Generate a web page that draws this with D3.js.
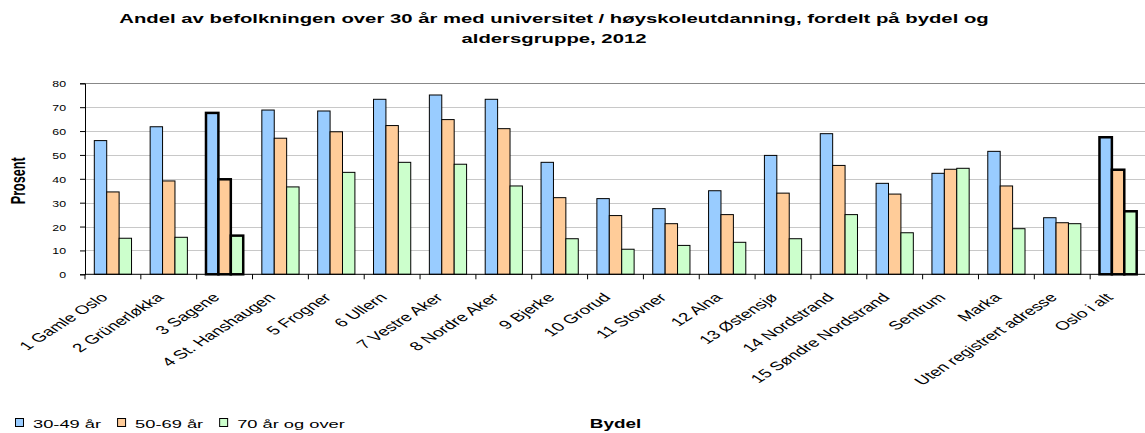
<!DOCTYPE html>
<html>
<head>
<meta charset="utf-8">
<script src="https://cdn.jsdelivr.net/npm/d3@7"></script>
<style>
  body { margin: 0; background: #fff; }
  text { font-family: "Liberation Sans", Arial, sans-serif; fill: #000; }
</style>
</head>
<body>
<svg id="chart"></svg>
<script>
// categories (bydel)
const bydeler = ["1 Gamle Oslo", "2 Grünerløkka", "3 Sagene", "4 St. Hanshaugen", "5 Frogner",
  "6 Ullern", "7 Vestre Aker", "8 Nordre Aker", "9 Bjerke", "10 Grorud", "11 Stovner",
  "12 Alna", "13 Østensjø", "14 Nordstrand", "15 Søndre Nordstrand", "Sentrum", "Marka",
  "Uten registrert adresse", "Oslo i alt"];

// series values (prosent)
const alder30_49 = [56.0, 61.8, 67.6, 68.8, 68.4, 73.3, 75.1, 73.3, 46.9, 31.7, 27.5, 35.0, 49.8, 58.9, 38.1, 42.3, 51.5, 23.7, 57.4];
const alder50_69 = [34.5, 39.1, 39.8, 57.0, 59.7, 62.3, 64.8, 61.0, 32.1, 24.6, 21.2, 25.0, 34.0, 45.6, 33.6, 44.0, 37.0, 21.6, 43.8];
const alder70 = [15.1, 15.5, 16.2, 36.6, 42.7, 46.9, 46.1, 37.0, 14.9, 10.5, 12.1, 13.4, 14.9, 25.0, 17.4, 44.4, 19.1, 21.2, 26.4];

const seriesNames = ["30-49 år", "50-69 år", "70 år og over"];
const seriesColors = ["#99ccff", "#ffcc99", "#ccffcc"];
const highlighted = ["3 Sagene", "Oslo i alt"];
const yTicks = [0, 10, 20, 30, 40, 50, 60, 70, 80];

const svgWidth = 1145, svgHeight = 433;
const plotLeft = 85, plotRight = 1146, plotTop = 83.3, plotBottom = 274.3;
const SX = 1.55; // the original picture is stretched sideways, so text is too

const svg = d3.select("#chart").attr("width", svgWidth).attr("height", svgHeight);

// helper: put a text at (x,y), widened by sx, optional extra transform after
function place(x, y, extra, sx) {
  return "translate(" + x + "," + y + ") scale(" + (sx || SX) + ",1)" + (extra ? " " + extra : "");
}

const data = bydeler.map((b, i) => ({ bydel: b, values: [alder30_49[i], alder50_69[i], alder70[i]] }));

const x0 = d3.scaleBand().domain(bydeler).range([plotLeft, plotRight])
  .paddingInner(1 / 3).paddingOuter(1 / 6);
const x1 = d3.scaleBand().domain([0, 1, 2]).range([0, x0.bandwidth()]);
const y = d3.scaleLinear().domain([0, 80]).range([plotBottom, plotTop]);

// gridlines
svg.append("g").selectAll("line").data(yTicks.filter(d => d > 0)).join("line")
  .attr("x1", plotLeft).attr("x2", plotRight)
  .attr("y1", d => Math.round(y(d)) + 0.5).attr("y2", d => Math.round(y(d)) + 0.5)
  .attr("stroke", d => d === 80 ? "#888" : "#c8c8c8").attr("stroke-width", 1);

// bars
const groups = svg.append("g").selectAll("g").data(data).join("g")
  .attr("transform", d => "translate(" + x0(d.bydel) + ",0)");

groups.selectAll("rect").data(d => d.values.map((v, k) => ({ v: v, k: k, hl: highlighted.includes(d.bydel) })))
  .join("rect")
  .attr("x", d => x1(d.k))
  .attr("y", d => y(d.v))
  .attr("width", x1.bandwidth())
  .attr("height", d => y(0) - y(d.v))
  .attr("fill", d => seriesColors[d.k])
  .attr("stroke", "#000")
  .attr("stroke-width", d => d.hl ? 2.5 : 1);

// y axis
const yAxis = svg.append("g").attr("transform", "translate(" + plotLeft + ",0)")
  .call(d3.axisLeft(y).tickValues(yTicks).tickSize(5));
yAxis.select(".domain").attr("stroke", "#000");
yAxis.selectAll(".tick line").attr("stroke", "#000");
yAxis.selectAll(".tick text")
  .attr("x", null).attr("dy", null)
  .attr("transform", place(-19, 3.5, null, 1.3))
  .style("font-size", "9.5px").style("font-family", "Liberation Sans, Arial, sans-serif");

// x axis
const xAxis = svg.append("g").attr("transform", "translate(0," + plotBottom + ")");
xAxis.append("line").attr("x1", plotLeft).attr("x2", plotRight).attr("y1", 0).attr("y2", 0).attr("stroke", "#000");
xAxis.selectAll("line.tk").data(d3.range(bydeler.length + 1)).join("line").attr("class", "tk")
  .attr("x1", i => plotLeft + i * x0.step()).attr("x2", i => plotLeft + i * x0.step())
  .attr("y1", 0).attr("y2", 5).attr("stroke", "#000");

xAxis.selectAll("text").data(bydeler).join("text")
  .attr("transform", d => place(x0(d) + x0.bandwidth() / 2 - 4, 24, "rotate(-45)"))
  .attr("text-anchor", "end")
  .style("font-size", "12.2px")
  .text(d => d);

// title
const titleLines = ["Andel av befolkningen over 30 år med universitet / høyskoleutdanning, fordelt på bydel og",
  "aldersgruppe, 2012"];
titleLines.forEach((line, i) => {
  svg.append("text").attr("transform", place(554, 22.7 + i * 20.5)).attr("text-anchor", "middle")
    .style("font-size", "13.1px").style("font-weight", "bold").text(line);
});

// axis titles
svg.append("text").attr("transform", place(25, (plotTop + plotBottom) / 2 + 2, "rotate(-90)"))
  .attr("text-anchor", "middle").style("font-size", "12.6px").style("font-weight", "bold").text("Prosent");
svg.append("text").attr("transform", place((plotLeft + plotRight) / 2, 428)).attr("text-anchor", "middle")
  .style("font-size", "12.2px").style("font-weight", "bold").text("Bydel");

// legend
const legend = svg.append("g").attr("transform", "translate(15,428)");
let lx = 0;
seriesNames.forEach((name, k) => {
  const g = legend.append("g").attr("transform", "translate(" + lx + ",0)");
  g.append("rect").attr("x", 0.5).attr("y", -9.5).attr("width", 8).attr("height", 8)
    .attr("fill", seriesColors[k]).attr("stroke", "#000");
  const t = g.append("text").attr("transform", place(18, 0)).style("font-size", "11.8px").text(name);
  lx += 18 + t.node().getComputedTextLength() * SX + 16;
});
</script>
</body>
</html>
